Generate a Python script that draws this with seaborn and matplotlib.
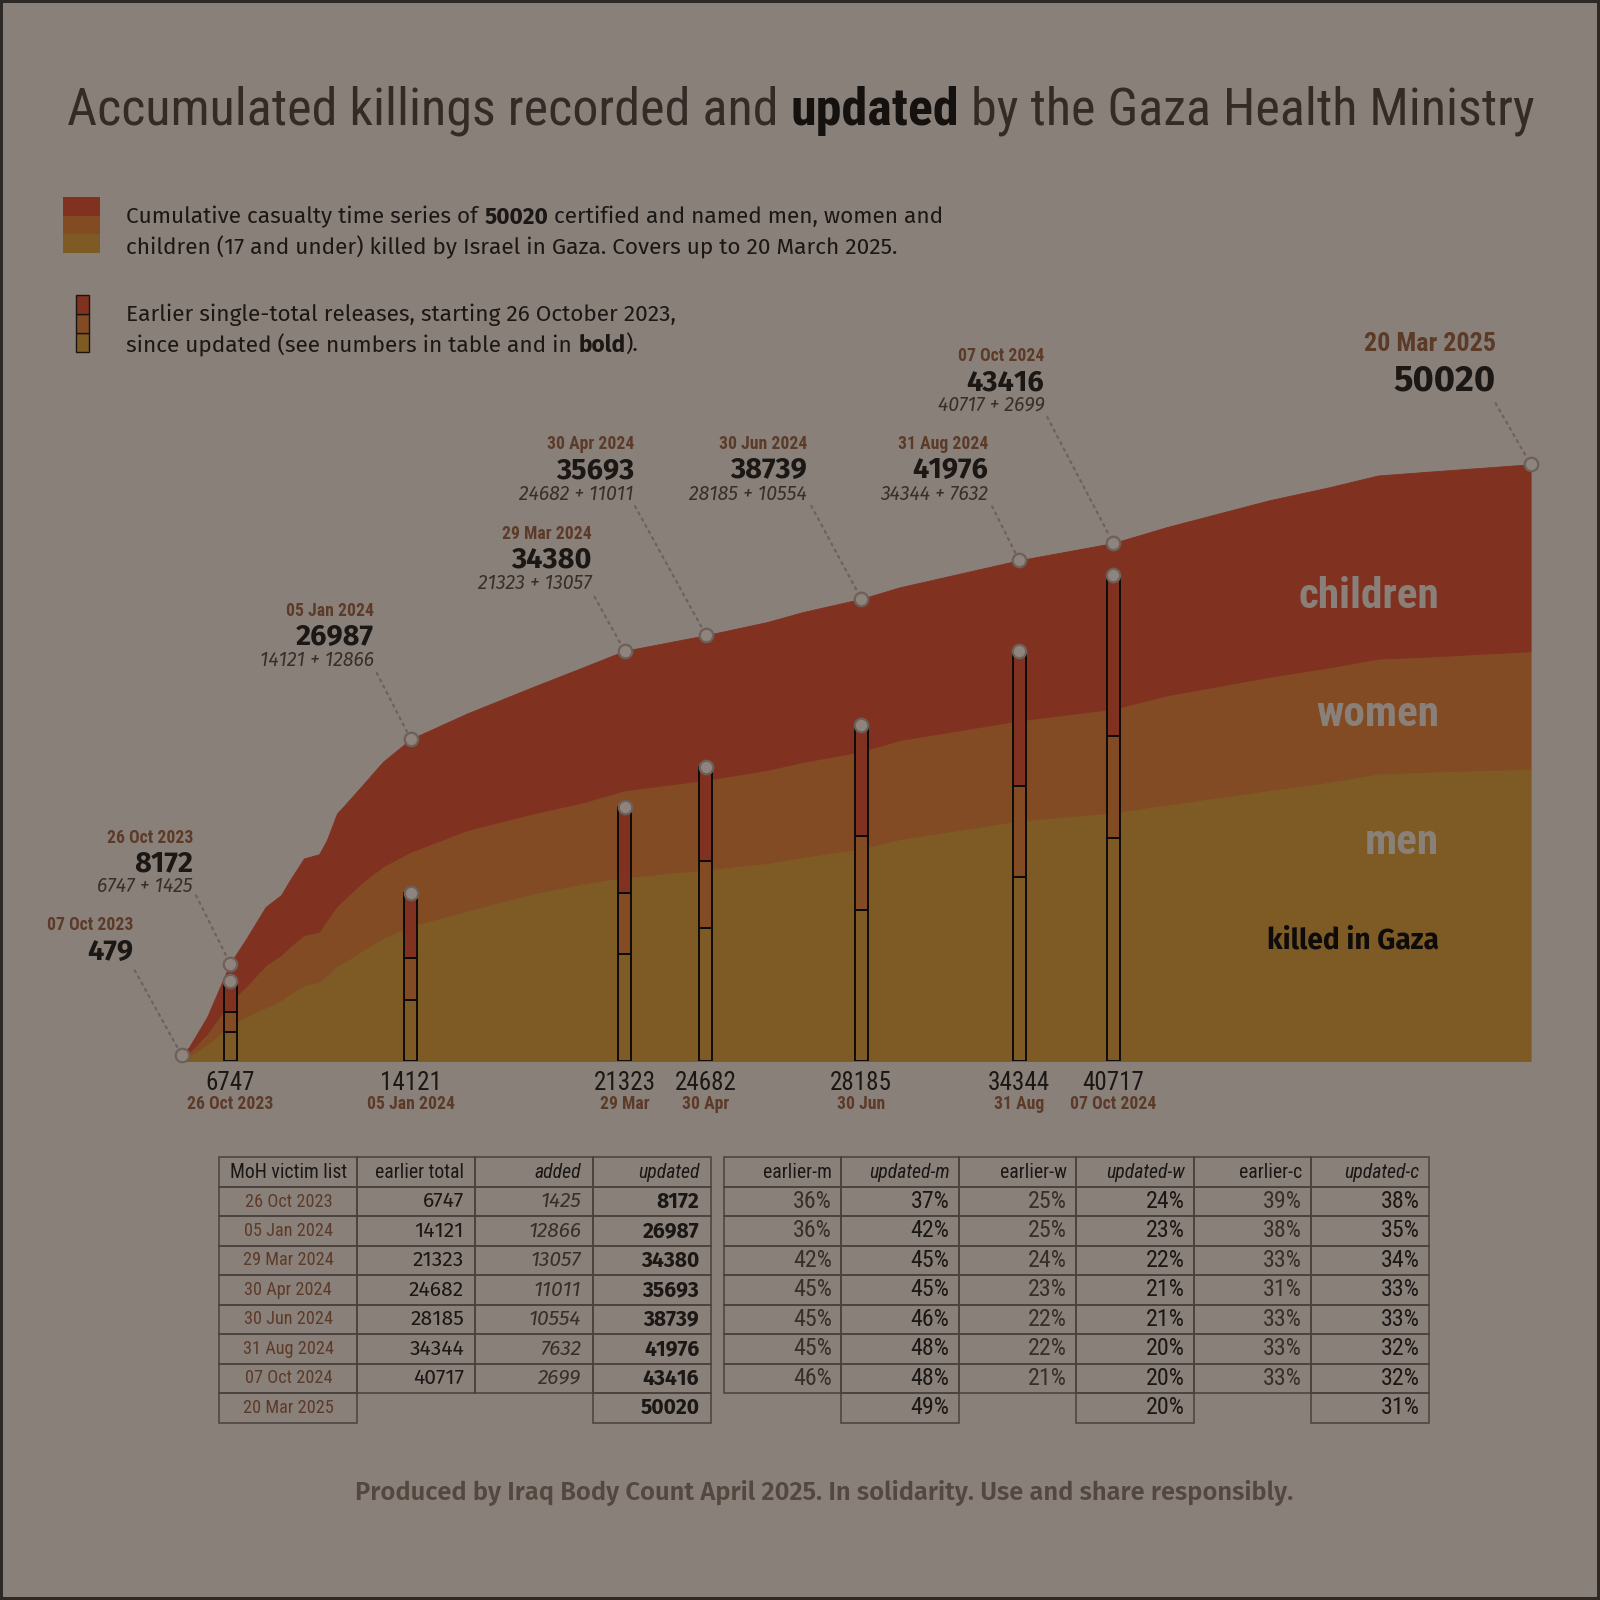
import numpy as np
import pandas as pd
import matplotlib
matplotlib.use('Agg')
import matplotlib.pyplot as plt
import matplotlib.dates as mdates
from matplotlib import font_manager
from matplotlib.font_manager import FontProperties
from matplotlib.patches import Rectangle
from matplotlib.table import Table
import seaborn as sns

# ---- cumulative casualty series ----
series_dates = ['2023-10-07', '2023-10-10', '2023-10-17', '2023-10-26', '2023-11-01',
                '2023-11-09', '2023-11-15', '2023-11-19', '2023-11-24', '2023-11-30',
                '2023-12-03', '2023-12-07', '2023-12-10', '2023-12-17', '2023-12-25',
                '2024-01-05', '2024-01-27', '2024-02-22', '2024-03-13', '2024-03-29',
                '2024-04-30', '2024-05-24', '2024-06-07', '2024-06-30', '2024-07-15',
                '2024-08-31', '2024-10-07', '2024-10-28', '2024-12-07', '2024-12-31',
                '2025-01-19', '2025-02-08', '2025-03-20']
series_men = [180, 450, 1400, 3024, 3700, 4500, 5109, 5700, 6365, 6641,
              7200, 8000, 8300, 9300, 10300, 11335, 12600, 14045, 14900, 15400,
              16062, 16600, 17110, 17820, 18600, 20148, 20840, 21500, 22697, 23400,
              24095, 24250, 24500]
series_women = [110, 300, 900, 1961, 2500, 3540, 3769, 4000, 4188, 4189,
                4600, 5000, 5300, 5700, 6000, 6207, 6747, 6700, 6800, 7300,
                7496, 7800, 7957, 8135, 8300, 8395, 8683, 9153, 9489, 9600,
                9632, 9650, 9850]
series_children = [189, 450, 1410, 3187, 3934, 4883, 5025, 5626, 6423, 6506,
                   6709, 7745, 7840, 8116, 8767, 9445, 9774, 10608, 11328, 11680,
                   12135, 12392, 12563, 12784, 12800, 13433, 13893, 14097, 14799, 15100,
                   15351, 15500, 15670]

# ---- earlier single-total releases and their updates ----
release_dates = ['2023-10-26', '2024-01-05', '2024-03-29', '2024-04-30',
                 '2024-06-30', '2024-08-31', '2024-10-07']
release_names = ['26 Oct 2023', '05 Jan 2024', '29 Mar 2024', '30 Apr 2024',
                 '30 Jun 2024', '31 Aug 2024', '07 Oct 2024']
tick_dates = ['26 Oct 2023', '05 Jan 2024', '29 Mar', '30 Apr', '30 Jun', '31 Aug', '07 Oct 2024']
earlier_total = [6747, 14121, 21323, 24682, 28185, 34344, 40717]
added = [1425, 12866, 13057, 11011, 10554, 7632, 2699]
updated = [8172, 26987, 34380, 35693, 38739, 41976, 43416]
earlier_m = [36, 36, 42, 45, 45, 45, 46]
updated_m = [37, 42, 45, 45, 46, 48, 48]
earlier_w = [25, 25, 24, 23, 22, 22, 21]
updated_w = [24, 23, 22, 21, 21, 20, 20]
earlier_c = [39, 38, 33, 31, 33, 33, 33]
updated_c = [38, 35, 34, 33, 33, 32, 32]

start_date, start_name, start_total = '2023-10-07', '07 Oct 2023', 479
end_date, end_name, end_total = '2025-03-20', '20 Mar 2025', 50020
end_m, end_w, end_c = 49, 20, 31

# ---- colours ----
BG = '#8a807a'
C_CHILD = '#803120'
C_WOMEN = '#834b23'
C_MEN = '#7e5a25'
BROWN = '#5c3a28'
INK = '#1b1715'
SOFT = '#382f2a'
DOT = '#8e837d'
DOT_EDGE = '#6c6058'
LEAD = '#6e625b'
EDGE = '#4a413c'

# ---- fonts ----
names = {f.name for f in font_manager.fontManager.ttflist}


def pick(cands, default='DejaVu Sans'):
    for c in cands:
        if c in names:
            return c
    return default


COND = pick(['Roboto Condensed', 'Liberation Sans Narrow', 'Archivo Narrow'])
SANS = pick(['Fira Sans', 'Noto Sans', 'Open Sans'])


def fp(fam, size=10, weight='normal', style='normal'):
    stretch = 'condensed' if (fam == COND and COND == 'DejaVu Sans') else 'normal'
    return FontProperties(family=[fam, 'DejaVu Sans'], size=size, weight=weight,
                          style=style, stretch=stretch)


sns.set_theme(style='white', rc={'figure.facecolor': BG, 'axes.facecolor': BG,
                                 'savefig.facecolor': BG})
plt.rcParams['font.family'] = [SANS, 'DejaVu Sans']

W = H = 1600


def fx(x):
    return x / W


def fy(y):
    return 1 - y / H


fig = plt.figure(figsize=(16, 16), dpi=100)
fig.patch.set_facecolor(BG)
fig.patch.set_edgecolor('#2d2926')
fig.patch.set_linewidth(3)
renderer = fig.canvas.get_renderer()


def text_w(s, prop):
    w1 = renderer.get_text_width_height_descent('x' + s + 'x', prop, ismath=False)[0]
    w0 = renderer.get_text_width_height_descent('xx', prop, ismath=False)[0]
    return w1 - w0


def fit(parts, target):
    # parts: list of (text, family, weight, style); returns font size in points
    w = sum(text_w(s, fp(f, 100, wt, st)) for s, f, wt, st in parts)
    return 100 * target / w


def rich(x, y, parts, size, colors, ha='left'):
    widths = [text_w(s, fp(f, size, wt, st)) for s, f, wt, st in parts]
    cur = x - sum(widths) / 2 if ha == 'center' else x
    for (s, f, wt, st), w, col in zip(parts, widths, colors):
        if s.strip():
            fig.text(fx(cur), fy(y), s, fontproperties=fp(f, size, wt, st),
                     color=col, ha='left', va='center')
        cur += w


# ---- main axes: stacked area ----
X0, X1, BASE, PPP, YMAX = 181.7, 1530.6, 1061.0, 0.01193, 60000
ax = fig.add_axes([fx(X0), fy(BASE), (X1 - X0) / W, YMAX * PPP / H])
ax.patch.set_alpha(0)

x_series = mdates.date2num(pd.to_datetime(series_dates))
layer_colors = [C_MEN, C_WOMEN, C_CHILD]
polys = ax.stackplot(x_series, series_men, series_women, series_children,
                     colors=layer_colors, zorder=1)
for p, c in zip(polys, layer_colors):
    p.set_edgecolor(c)
    p.set_linewidth(0.6)

# earlier single-total bars split by earlier shares
x_rel = mdates.date2num(pd.to_datetime(release_dates))
tot = np.array(earlier_total, float)
bar_m = tot * np.array(earlier_m) / 100
bar_w = tot * np.array(earlier_w) / 100
bar_c = tot - bar_m - bar_w
bkw = dict(width=5.1, edgecolor='#0d0b0a', linewidth=1.4, zorder=3)
ax.bar(x_rel, bar_m, color=C_MEN, **bkw)
ax.bar(x_rel, bar_w, bottom=bar_m, color=C_WOMEN, **bkw)
ax.bar(x_rel, bar_c, bottom=bar_m + bar_w, color=C_CHILD, **bkw)

x_start = mdates.date2num(pd.Timestamp(start_date))
x_end = mdates.date2num(pd.Timestamp(end_date))
dots = pd.DataFrame({
    'x': np.concatenate([[x_start], x_rel, x_rel, [x_end]]),
    'y': np.concatenate([[start_total], earlier_total, updated, [end_total]]),
})
sns.scatterplot(data=dots, x='x', y='y', ax=ax, s=95, color=DOT, edgecolor=DOT_EDGE,
                linewidth=1.6, zorder=5, clip_on=False, legend=False)

ax.set_xlim(x_start, x_end)
ax.set_ylim(0, YMAX)
ax.axis('off')

# ---- call-outs ----
s_date = fit([('05 Jan 2024', COND, 'bold', 'normal')], 81) * 1.08
s_num = fit([('26987', SANS, 'bold', 'normal')], 78)
s_form = fit([('14121 + 12866', SANS, 'normal', 'italic')], 114)
s_bignum = fit([('50020', SANS, 'bold', 'normal')], 102)
s_bigdate = fit([('20 Mar 2025', COND, 'bold', 'normal')], 126) * 1.05
s_tnum = fit([('21323', COND, 'normal', 'normal')], 59) * 1.05


def leader(xd, yd, dx, dy):
    ax.annotate('', xy=(xd, yd), xytext=(dx, dy), textcoords='offset pixels',
                annotation_clip=False,
                arrowprops=dict(arrowstyle='-', color=LEAD, lw=1.6,
                                linestyle=(0, (1, 2.2)), shrinkA=0, shrinkB=6))


def label(xd, yd, dx, dy, s, prop, color):
    ax.annotate(s, xy=(xd, yd), xytext=(dx, dy), textcoords='offset pixels',
                ha='right', va='center', fontproperties=prop, color=color,
                annotation_clip=False)


# (line dx, line dy, text dx, formula dy, number dy, date dy) in pixels from the dot
callouts = [(-34, 68, -37, 77, 100, 126),
            (-34, 66, -37, 79, 102, 128),
            (-30, 54, -33, 68, 91, 117),
            (-71, 129, -72, 141, 164, 191),
            (-50, 93, -54, 105, 129, 155),
            (-27, 54, -31, 66, 90, 116),
            (-66, 126, -69, 138, 160, 187)]
for xd, up, ea, ad, nm, c in zip(x_rel, updated, earlier_total, added, release_names, callouts):
    ldx, ldy, tdx, fdy, ndy, ddy = c
    leader(xd, up, ldx, ldy)
    label(xd, up, tdx, fdy, f'{ea} + {ad}', fp(SANS, s_form, style='italic'), SOFT)
    label(xd, up, tdx, ndy, str(up), fp(SANS, s_num, 'bold'), INK)
    label(xd, up, tdx, ddy, nm, fp(COND, s_date, 'bold'), BROWN)

leader(x_start, start_total, -47, 85)
label(x_start, start_total, -48, 103, str(start_total), fp(SANS, s_num, 'bold'), INK)
label(x_start, start_total, -48, 130, start_name, fp(COND, s_date, 'bold'), BROWN)

leader(x_end, end_total, -35, 61)
label(x_end, end_total, -35, 84, str(end_total), fp(SANS, s_bignum, 'bold'), INK)
label(x_end, end_total, -35, 120, end_name, fp(COND, s_bigdate, 'bold'), BROWN)

# numbers and dates under the bars
for xd, n, d in zip(x_rel, earlier_total, tick_dates):
    ax.annotate(str(n), xy=(xd, 0), xytext=(0, -22), textcoords='offset pixels',
                ha='center', va='center', fontproperties=fp(COND, s_tnum), color=INK,
                annotation_clip=False)
    ax.annotate(d, xy=(xd, 0), xytext=(0, -43), textcoords='offset pixels',
                ha='center', va='center', fontproperties=fp(COND, s_date, 'bold'),
                color=BROWN, annotation_clip=False)

# layer names
s_layer = fit([('children', COND, 'bold', 'normal')], 141)
for txt, y in [('children', 596), ('women', 714), ('men', 843)]:
    fig.text(fx(1439), fy(y), txt, fontproperties=fp(COND, s_layer, 'bold'),
             color=BG, ha='right', va='center')
s_kill = fit([('killed in Gaza', SANS, 'bold', 'normal')], 172)
fig.text(fx(1439), fy(941), 'killed in Gaza', fontproperties=fp(SANS, s_kill, 'bold'),
         color='#0e0c0b', ha='right', va='center')

# ---- title ----
title_parts = [('Accumulated killings recorded and', COND, 'normal', 'normal'),
               (' ', COND, 'normal', 'normal'),
               ('updated', COND, 'bold', 'normal'),
               (' ', COND, 'normal', 'normal'),
               ('by the Gaza Health Ministry', COND, 'normal', 'normal')]
s_title = fit(title_parts, 1469)
rich(801, 111, title_parts, s_title, ['#342b26', None, '#15110f', None, '#342b26'], ha='center')

# ---- legend ----
seg = (fy(197) - fy(253)) / 3
for i, c in enumerate(layer_colors):
    fig.add_artist(Rectangle((fx(63.3), fy(253) + i * seg), (100 - 63.3) / W, seg,
                             transform=fig.transFigure, facecolor=c, edgecolor='none'))
seg2 = (fy(295) - fy(352)) / 3
for i, c in enumerate(layer_colors):
    fig.add_artist(Rectangle((fx(75.5), fy(352) + i * seg2), (88.8 - 75.5) / W, seg2,
                             transform=fig.transFigure, facecolor=c,
                             edgecolor='#1a1412', linewidth=1.0))

N = (SANS, 'normal', 'normal')
B = (SANS, 'bold', 'normal')
line1 = [('Cumulative casualty time series of',) + N, (' ',) + N, ('50020',) + B,
         (' ',) + N, ('certified and named men, women and',) + N]
s_leg = fit(line1, 819)
rich(126.5, 217, line1, s_leg, [INK] * 5)
rich(126.5, 247, [('children (17 and under) killed by Israel in Gaza. Covers up to 20 March 2025.',) + N],
     s_leg, [INK])
rich(126.5, 315, [('Earlier single-total releases, starting 26 October 2023,',) + N], s_leg, [INK])
rich(126.5, 345, [('since updated (see numbers in table and in',) + N, (' ',) + N, ('bold',) + B,
                  (').',) + N], s_leg, [INK] * 4)

# ---- footer ----
foot = [('Produced by Iraq Body Count April 2025. In solidarity. Use and share responsibly.',
         SANS, 'semibold', 'normal')]
s_foot = fit(foot, 939)
rich(824.5, 1493, foot, s_foot, ['#54473f'], ha='center')

# ---- tables ----
s_thead = fit([('MoH victim list', COND, 'normal', 'normal')], 111) * 1.06
s_tdate = fit([('05 Jan 2024', COND, 'normal', 'normal')], 78) * 1.14
s_tval = fit([('14121', SANS, 'normal', 'normal')], 49)
s_tpct = fit([('36%', COND, 'normal', 'normal')], 36) * 1.08


def draw_table(left, right, top, bottom, col_w, rows, head_styles, body_styles,
               open_cells, pad):
    tax = fig.add_axes([fx(left), fy(bottom), (right - left) / W, (bottom - top) / H])
    tax.axis('off')
    tb = Table(tax, bbox=[0, 0, 1, 1])
    tb.auto_set_font_size(False)
    for r, row in enumerate(rows):
        styles = head_styles if r == 0 else body_styles
        for c, txt in enumerate(row):
            fam, size, wt, st, col, loc = styles[c]
            cell = tb.add_cell(r, c, width=col_w[c], height=1.0, text=txt, loc=loc,
                               facecolor='none', edgecolor=EDGE,
                               fontproperties=fp(fam, size, wt, st))
            cell.get_text().set_color(col)
            cell.set_linewidth(1.1)
            cell.PAD = pad
            if (r, c) in open_cells:
                cell.visible_edges = ''
    tax.add_table(tb)


left_rows = [['MoH victim list', 'earlier total', 'added', 'updated']]
for nm, ea, ad, up in zip(release_names, earlier_total, added, updated):
    left_rows.append([nm, str(ea), str(ad), str(up)])
left_rows.append([end_name, '', '', str(end_total)])
left_head = [(COND, s_thead, 'normal', 'normal', INK, 'center'),
             (COND, s_thead, 'normal', 'normal', INK, 'right'),
             (COND, s_thead, 'normal', 'italic', INK, 'right'),
             (COND, s_thead, 'normal', 'italic', INK, 'right')]
left_body = [(COND, s_tdate, 'normal', 'normal', BROWN, 'center'),
             (SANS, s_tval, 'normal', 'normal', INK, 'right'),
             (SANS, s_tval, 'normal', 'italic', SOFT, 'right'),
             (SANS, s_tval, 'bold', 'normal', INK, 'right')]
draw_table(219.4, 710.7, 1157.3, 1422.6, [137.7, 118, 117, 118], left_rows,
           left_head, left_body, {(8, 1), (8, 2)}, 0.097)

right_rows = [['earlier-m', 'updated-m', 'earlier-w', 'updated-w', 'earlier-c', 'updated-c']]
for vals in zip(earlier_m, updated_m, earlier_w, updated_w, earlier_c, updated_c):
    right_rows.append([f'{v}%' for v in vals])
right_rows.append(['', f'{end_m}%', '', f'{end_w}%', '', f'{end_c}%'])
right_head = [(COND, s_thead, 'normal', 'normal' if i % 2 == 0 else 'italic', INK, 'right')
              for i in range(6)]
right_body = [(COND, s_tpct, 'normal', 'normal', SOFT if i % 2 == 0 else INK, 'right')
              for i in range(6)]
draw_table(723.5, 1428.9, 1157.3, 1422.6, [117.5] * 6, right_rows,
           right_head, right_body, {(8, 0), (8, 2), (8, 4)}, 0.078)

fig.savefig('out.png', dpi=100, facecolor=BG, edgecolor=fig.patch.get_edgecolor())
